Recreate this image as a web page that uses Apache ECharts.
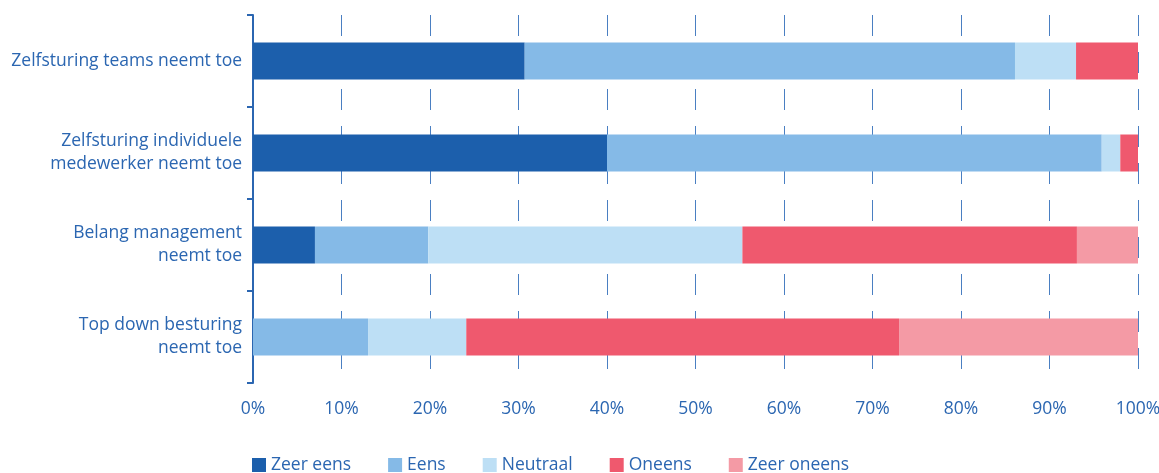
<!DOCTYPE html>
<html>
<head>
<meta charset="utf-8">
<script src="https://cdn.jsdelivr.net/npm/echarts@6/dist/echarts.min.js"></script>
<style>
  html, body { margin: 0; padding: 0; background: #ffffff; }
  #chart { width: 1159px; height: 473px; }
</style>
</head>
<body>
<div id="chart"></div>
<script>
// Statements (top to bottom)
const categories = [
  'Zelfsturing teams neemt toe',
  'Zelfsturing individuele\nmedewerker neemt toe',
  'Belang management\nneemt toe',
  'Top down besturing\nneemt toe'
];

// Answer share per statement, in percent
const zeerEens   = [30.7, 40.0,  7.0,  0.0];
const eens       = [55.4, 55.9, 12.8, 13.0];
const neutraal   = [ 6.9,  2.1, 35.5, 11.1];
const oneens     = [ 7.0,  2.0, 37.8, 48.9];
const zeerOneens = [ 0.0,  0.0,  6.9, 27.0];

const seriesNames = ['Zeer eens', 'Eens', 'Neutraal', 'Oneens', 'Zeer oneens'];
const seriesData = [zeerEens, eens, neutraal, oneens, zeerOneens];
const seriesColors = ['#1c5fac', '#85bae7', '#bddff5', '#ef596e', '#f49aa5'];

const textColor = '#2b66b1';
const fontFamily = '"Open Sans", "Noto Sans", sans-serif';
const fontSize = 17.5;

const chart = echarts.init(document.getElementById('chart'), null, { renderer: 'canvas' });

chart.setOption({
  animation: false,
  backgroundColor: '#ffffff',
  textStyle: { fontFamily: fontFamily, color: textColor },
  grid: {
    left: 253, right: 21, top: 15, bottom: 90,
    containLabel: false,
    outerBoundsMode: 'none'
  },
  legend: {
    bottom: -6,
    left: 247,
    itemWidth: 14,
    itemHeight: 14,
    itemGap: 37,
    icon: 'rect',
    textStyle: { color: textColor, fontSize: fontSize, fontFamily: fontFamily },
    data: seriesNames
  },
  xAxis: {
    type: 'value',
    min: 0,
    max: 100,
    interval: 10,
    axisLine: { show: false },
    axisTick: { show: false },
    axisLabel: {
      color: textColor,
      fontSize: fontSize,
      margin: 17,
      formatter: v => v + '%'
    },
    splitLine: {
      show: true,
      lineStyle: { color: '#4a7fc2', width: 1, type: [21, 16] }
    }
  },
  yAxis: {
    type: 'category',
    data: categories,
    inverse: true,
    axisLine: { show: true, lineStyle: { color: '#2b66b1', width: 2 } },
    axisTick: { show: true, length: 6, lineStyle: { color: '#2b66b1', width: 2 } },
    axisLabel: {
      color: textColor,
      fontSize: fontSize,
      lineHeight: 23,
      margin: 11,
      align: 'right'
    },
    splitLine: { show: false }
  },
  series: seriesData.map((data, i) => ({
    name: seriesNames[i],
    type: 'bar',
    stack: 'total',
    data: data,
    barWidth: 37,
    itemStyle: { color: seriesColors[i], borderWidth: 0 },
    emphasis: { disabled: true }
  }))
});
</script>
</body>
</html>
